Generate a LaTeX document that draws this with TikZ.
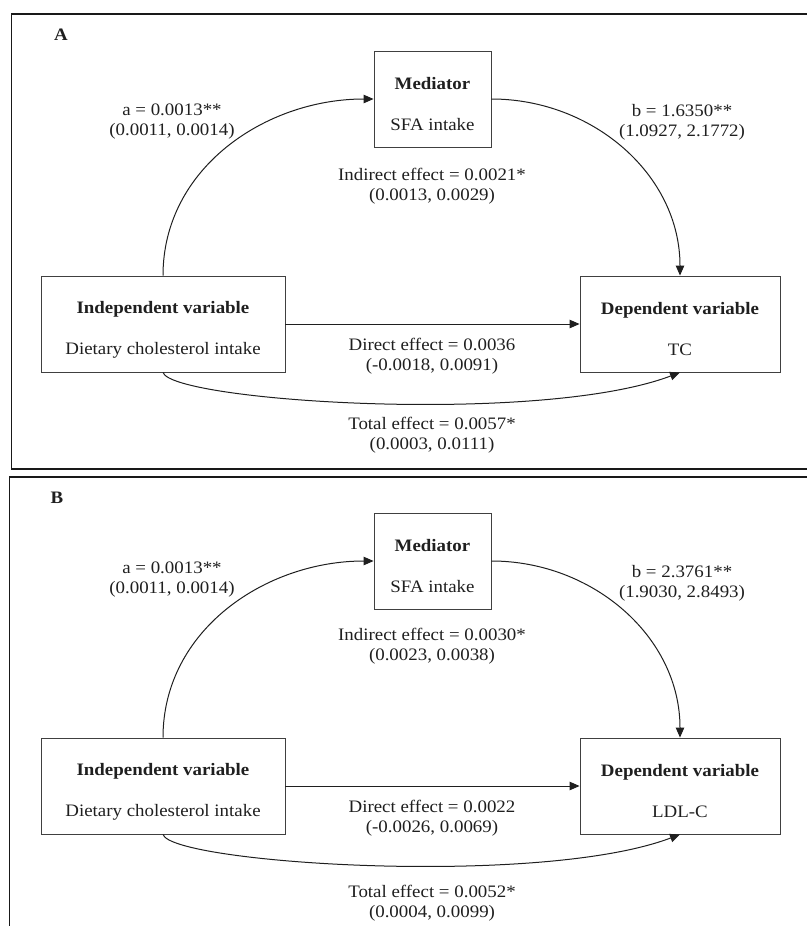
\documentclass[tikz,border=0pt]{standalone}
\usepackage{fontspec}
\setmainfont{Liberation Serif}[FakeStretch=1.08]
\usetikzlibrary{arrows.meta}
\newcommand{\toppad}{\rule{0pt}{23pt}}
\tikzset{
  txt/.style={font=\fontsize{17.5}{20}\selectfont, text=black!88},
  box/.style={txt, draw=black!75, line width=0.9pt, minimum height=96pt, align=center, inner sep=0pt},
  lbl/.style={txt, align=center, inner sep=0pt},
  conn/.style={draw=black!88, line width=1pt, -{Triangle[length=10pt,width=8.5pt]}},
  frame/.style={draw=black!90, line width=1.3pt},
  panel/.style={txt, font=\fontsize{17.5}{20}\selectfont\bfseries},
}
\begin{document}
\begin{tikzpicture}[x=1pt,y=1pt]
\useasboundingbox (0,0) rectangle (806,-926);
% frames
\draw[frame] (11.5,-14) rectangle (820,-469);
\draw[frame] (820,-477) -- (9.5,-477) -- (9.5,-940);

% ---------- Panel A ----------
\node[panel] (labA) at (61,-35) {A};
\node[box, minimum width=244pt] (indA) at (163,-324) {\toppad\textbf{Independent variable}\\[21pt]Dietary cholesterol intake};
\node[box, minimum width=117pt] (medA) at (432.5,-99) {\toppad\textbf{Mediator}\\[21pt]SFA intake};
\node[box, minimum width=200pt] (depA) at (680,-324) {\toppad\textbf{Dependent variable}\\[21pt]TC};
\draw[conn] (indA.north) to[out=90,in=180] (medA.west);
\draw[conn] (medA.east) to[out=0,in=90] (depA.north);
\draw[conn] (indA.east) -- (depA.west);
\draw[conn] (indA.south) .. controls +(9,-29) and +(-140,-53) .. (depA.south);
\node[lbl] (aA) at (172,-122) {a = 0.0013**\\(0.0011, 0.0014)};
\node[lbl] (bA) at (682,-122) {b = 1.6350**\\(1.0927, 2.1772)};
\node[lbl] (inA) at (432,-186) {Indirect effect = 0.0021*\\(0.0013, 0.0029)};
\node[lbl] (diA) at (432,-356) {Direct effect = 0.0036\\(-0.0018, 0.0091)};
\node[lbl] (toA) at (432,-435) {Total effect = 0.0057*\\(0.0003, 0.0111)};

% ---------- Panel B ----------
\node[panel] (labB) at (57,-498) {B};
\node[box, minimum width=244pt] (indB) at (163,-786) {\toppad\textbf{Independent variable}\\[21pt]Dietary cholesterol intake};
\node[box, minimum width=117pt] (medB) at (432.5,-561) {\toppad\textbf{Mediator}\\[21pt]SFA intake};
\node[box, minimum width=200pt] (depB) at (680,-786) {\toppad\textbf{Dependent variable}\\[21pt]LDL-C};
\draw[conn] (indB.north) to[out=90,in=180] (medB.west);
\draw[conn] (medB.east) to[out=0,in=90] (depB.north);
\draw[conn] (indB.east) -- (depB.west);
\draw[conn] (indB.south) .. controls +(9,-29) and +(-140,-53) .. (depB.south);
\node[lbl] (aB) at (172,-580) {a = 0.0013**\\(0.0011, 0.0014)};
\node[lbl] (bB) at (682,-583) {b = 2.3761**\\(1.9030, 2.8493)};
\node[lbl] (inB) at (432,-646) {Indirect effect = 0.0030*\\(0.0023, 0.0038)};
\node[lbl] (diB) at (432,-818) {Direct effect = 0.0022\\(-0.0026, 0.0069)};
\node[lbl] (toB) at (432,-903) {Total effect = 0.0052*\\(0.0004, 0.0099)};
\end{tikzpicture}
\end{document}
